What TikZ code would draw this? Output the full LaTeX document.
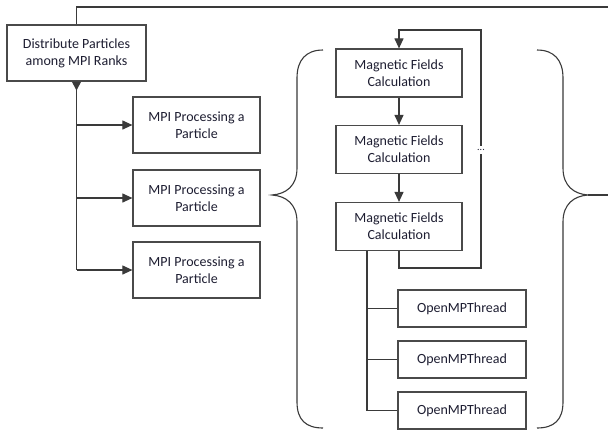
\documentclass[tikz,border=0pt]{standalone}
\usepackage{fontspec}
\setmainfont{Carlito}
\usetikzlibrary{arrows.meta}
\usetikzlibrary{calc,positioning}

\definecolor{linegray}{HTML}{3A3A3A}
\definecolor{boxgray}{HTML}{4A4A4A}
\definecolor{textdark}{HTML}{1E1E32}

\tikzset{
  box/.style={draw=boxgray, line width=1.2pt, fill=white, align=center,
    text=textdark, inner sep=0pt, font=\fontsize{14}{17}\selectfont},
  mpibox/.style={box, minimum width=127pt, minimum height=56pt},
  magbox/.style={box, minimum width=126pt, minimum height=48pt},
  ompbox/.style={box, minimum width=128pt, minimum height=37pt},
  line/.style={draw=linegray, line width=1.1pt},
}

\begin{document}
\begin{tikzpicture}[x=1pt, y=-1pt, >={Triangle[length=10pt, width=9pt]}]

    \clip (0,0) rectangle (608,429);
    \fill[white] (0,0) rectangle (608,429);

    % MPI side
    \node[box, minimum width=139pt, minimum height=56pt] (dist) at (76.5,53) {Distribute Particles\\among MPI Ranks};
    \foreach \y/\n in {125/1, 198/2, 270/3}
        \node[mpibox] (mpi\n) at (196.5,\y) {MPI Processing a\\Particle};

    \coordinate (out) at (608,7);
    \draw[line] (dist.north) |- (out);
    \draw[line, {Triangle[length=9pt, width=9pt, reversed]}-] (dist.south) -- (dist.south |- mpi3);
    \foreach \n in {1,2,3}
        \draw[line, ->] (dist.south |- mpi\n) -- (mpi\n.west);

    % field calculation loop
    \foreach \y/\n in {73/1, 149.5/2, 226.5/3}
        \node[magbox] (mag\n) at (399,\y) {Magnetic Fields\\Calculation};
    \draw[line, ->] (mag1) -- (mag2);
    \draw[line, ->] (mag2) -- (mag3);

    \coordinate (loopb) at (481,268);
    \coordinate (loopt) at (481,30);
    \draw[line, ->] (mag3.south) |- (loopb) -- (loopt) -| (mag1.north);
    \node[fill=white, inner xsep=1pt, inner ysep=3pt, text=textdark, font=\fontsize{10}{10}\selectfont] (dots) at (481,150) {...};

    % threads
    \foreach \y/\n in {308.5/1, 359.5/2, 410.5/3}
        \node[ompbox] (omp\n) at (462,\y) {OpenMPThread};
    \coordinate (fork) at ([xshift=-32pt]mag3.south);
    \draw[line] (fork) -- (fork |- omp3);
    \foreach \n in {1,2,3}
        \draw[line] (fork |- omp\n) -- (omp\n.west);

    % braces round the threaded part
    \draw[line] (323,50) .. controls (306,50) and (297,60) .. (297,78) -- (297,168)
        .. controls (297,186) and (286,194) .. (272,195)
        .. controls (286,196) and (297,204) .. (297,222) -- (297,402)
        .. controls (297,420) and (306,428) .. (323,428);
    \draw[line] (537,50) .. controls (554,50) and (563,60) .. (563,78) -- (563,168)
        .. controls (563,186) and (574,194) .. (588,195) coordinate (tip)
        .. controls (574,196) and (563,204) .. (563,222) -- (563,402)
        .. controls (563,420) and (554,428) .. (537,428);
    \coordinate (exit) at (608,195);
    \draw[line] (tip) -- (exit);

\end{tikzpicture}
\end{document}
